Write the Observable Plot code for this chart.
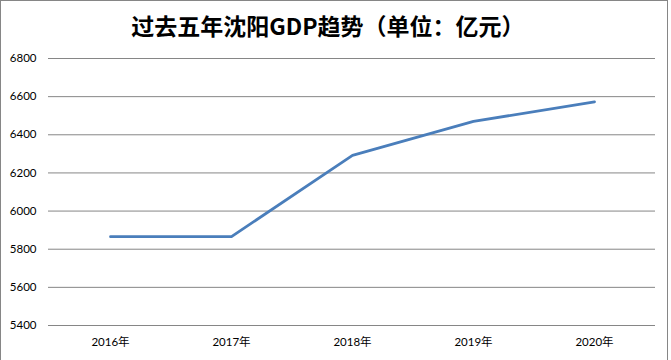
<!DOCTYPE html>
<html>
<head>
<meta charset="utf-8">
<script src="https://cdn.jsdelivr.net/npm/d3@7"></script>
<script src="https://cdn.jsdelivr.net/npm/@observablehq/plot@0.6"></script>
<style>
  html, body { margin: 0; padding: 0; background: #fff; }
  #wrap { position: relative; width: 671px; height: 360px; overflow: hidden; background: #fff; }
  #frame { position: absolute; left: 0; top: 0; width: 666px; height: 400px; border: 1px solid #868686; box-sizing: content-box; pointer-events: none; }
  #title { position: absolute; left: 0; top: 9px; width: 656px; height: 32px; line-height: 32px; text-align: center;
           font-family: "Noto Sans CJK SC", sans-serif; font-weight: bold; font-size: 23px; color: #000; }
  #chart { position: absolute; left: 0; top: 48px; }
</style>
</head>
<body>
<div id="wrap">
  <div id="title">过去五年沈阳GDP趋势（单位：亿元）</div>
  <div id="chart"></div>
  <div id="frame"></div>
</div>
<script>
const years = ["2016年", "2017年", "2018年", "2019年", "2020年"];
const gdp = [5866, 5866, 6292, 6470, 6573];
const yTicks = [5400, 5600, 5800, 6000, 6200, 6400, 6600, 6800];

const data = years.map((y, i) => ({year: y, value: gdp[i]}));

const plot = Plot.plot({
  width: 671,
  height: 312,
  marginTop: 10,
  marginBottom: 35,
  marginLeft: 48,
  marginRight: 16,
  style: {fontFamily: "Lato, 'Noto Sans CJK SC', sans-serif", fontSize: "11.5px", color: "#000", background: "transparent"},
  x: {type: "point", domain: years, padding: 0.5, label: null},
  y: {domain: [5400, 6800], label: null},
  marks: [
    Plot.ruleY(yTicks, {stroke: "#868686", strokeWidth: 1, strokeOpacity: 1}),
    Plot.axisY({ticks: yTicks, tickSize: 0, tickPadding: 12, label: null, tickFormat: d => String(d), fontSize: 11.5}),
    Plot.axisX({tickSize: 0, tickPadding: 12, label: null, fontSize: 11.5, fontFamily: "Lato, 'Noto Sans CJK SC', sans-serif"}),
    Plot.line(data, {x: "year", y: "value", stroke: "#4a7ebb", strokeWidth: 2.75, strokeLinejoin: "round"})
  ]
});
document.getElementById("chart").appendChild(plot);
</script>
</body>
</html>
